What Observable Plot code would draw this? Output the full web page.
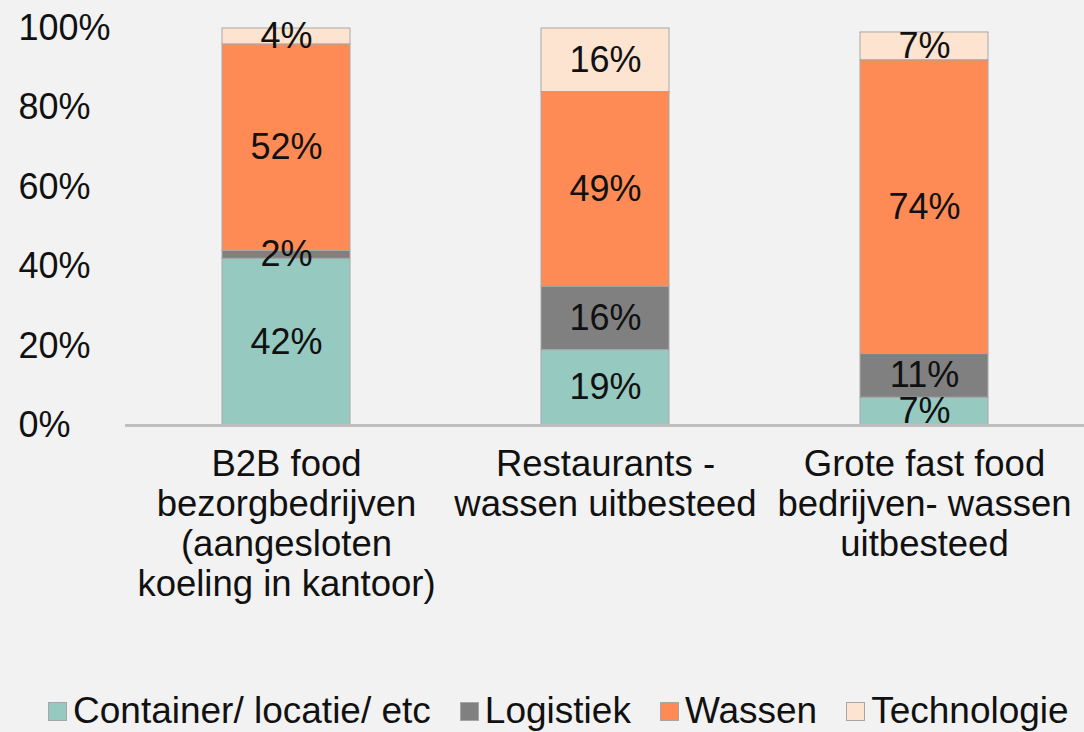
<!DOCTYPE html>
<html>
<head>
<meta charset="utf-8">
<script src="https://cdn.jsdelivr.net/npm/d3@7"></script>
<script src="https://cdn.jsdelivr.net/npm/@observablehq/plot@0.6"></script>
<style>
  html, body { margin: 0; padding: 0; background: #f2f2f2; }
  body { width: 1084px; height: 732px; overflow: hidden; font-family: "Liberation Sans", Arial, sans-serif; }
  #legend { display: flex; align-items: center; height: 42px; padding-left: 48px; font-size: 37px; color: #111; white-space: nowrap; }
  .item { display: flex; align-items: center; margin-right: 29px; }
  .sw { width: 19px; height: 19px; margin-right: 6px; box-sizing: border-box; border: 1px solid #a6a6a6; }
</style>
</head>
<body>
<div id="chart"></div>
<div id="legend"></div>
<script>
const categories = [
  "B2B food\nbezorgbedrijven\n(aangesloten\nkoeling in kantoor)",
  "Restaurants -\nwassen uitbesteed",
  "Grote fast food\nbedrijven- wassen\nuitbesteed"
];
const series = ["Container/ locatie/ etc", "Logistiek", "Wassen", "Technologie"];
const colors = ["#96c9c0", "#808080", "#fe8b55", "#fde4d1"];
const containerValues = [42, 19, 7];
const logistiekValues = [2, 16, 11];
const wassenValues = [52, 49, 74];
const technologieValues = [4, 16, 7];
const yTicks = [0, 20, 40, 60, 80, 100];

const valueLists = [containerValues, logistiekValues, wassenValues, technologieValues];
const data = [];
series.forEach((s, i) => {
  categories.forEach((c, j) => {
    data.push({category: c, series: s, value: valueLists[i][j]});
  });
});

const chart = Plot.plot({
  width: 1084,
  height: 690,
  marginLeft: 125,
  marginRight: 0,
  marginTop: 28,
  marginBottom: 265,
  style: {fontFamily: "'Liberation Sans', Arial, sans-serif", fontSize: "36px", background: "#f2f2f2", color: "#111"},
  x: {domain: categories, paddingInner: 0.6, paddingOuter: 0.3, label: null},
  y: {domain: [0, 100], label: null},
  color: {domain: series, range: colors},
  marks: [
    Plot.barY(data, Plot.stackY({x: "category", y: "value", fill: "series", order: series, stroke: "#a8a8a8", strokeWidth: 1})),
    Plot.text(data, Plot.stackY({x: "category", y: "value", z: "series", order: series, text: d => d.value + "%", fill: "#111", fontSize: 36})),
    Plot.ruleY([0], {stroke: "#bfbfbf", strokeWidth: 3}),
    Plot.axisY(yTicks, {anchor: "left", tickSize: 0, tickPadding: 0, textAnchor: "start", dx: -107, tickFormat: d => d + "%", label: null, fontSize: 36}),
    Plot.axisX({anchor: "bottom", tickSize: 0, tickPadding: 22, lineHeight: 1.1, label: null, fontSize: 36.5})
  ]
});
document.getElementById("chart").appendChild(chart);

const legend = document.getElementById("legend");
series.forEach((s, i) => {
  const item = document.createElement("div");
  item.className = "item";
  const sw = document.createElement("span");
  sw.className = "sw";
  sw.style.background = colors[i];
  const t = document.createElement("span");
  t.textContent = s;
  item.appendChild(sw);
  item.appendChild(t);
  legend.appendChild(item);
});
</script>
</body>
</html>
